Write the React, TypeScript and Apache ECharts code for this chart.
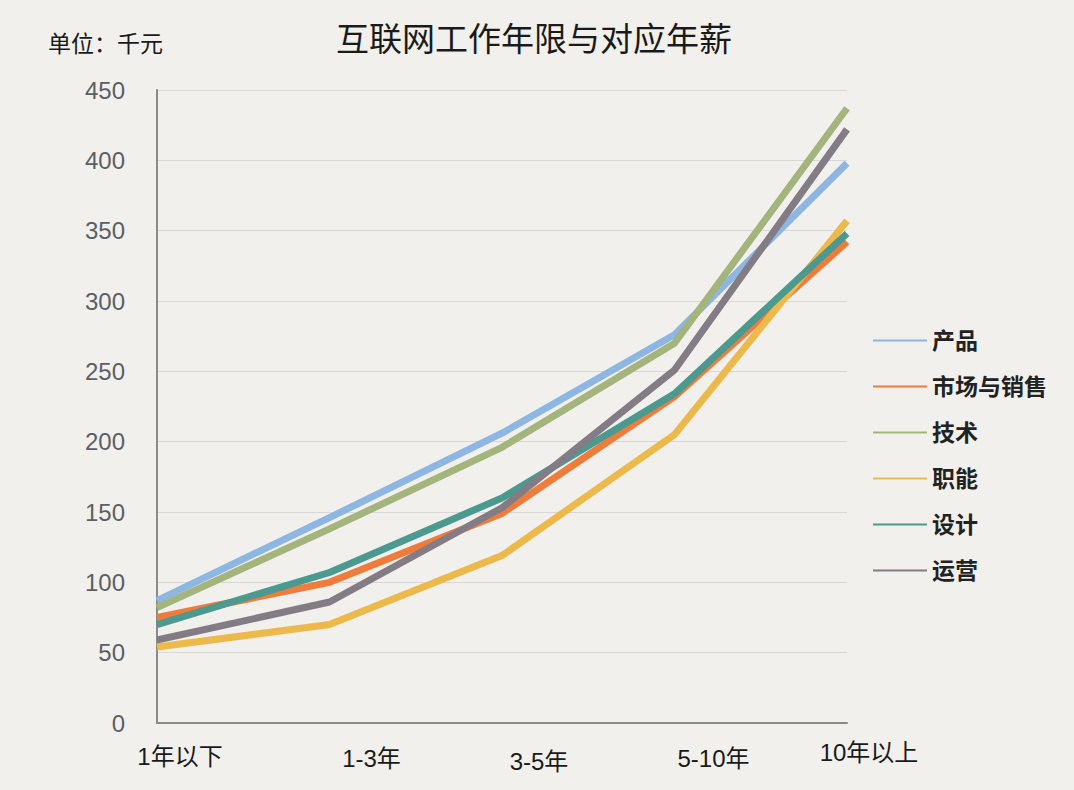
import React, { useEffect, useRef } from "react";
import * as echarts from "echarts";

const categories = ["1年以下", "1-3年", "3-5年", "5-10年", "10年以上"];
const seriesNames = ["产品", "市场与销售", "技术", "职能", "设计", "运营"];
const product = [87, 146, 206, 276, 398];
const marketing = [75, 100, 149, 232, 342];
const tech = [82, 138, 196, 270, 437];
const functional = [54, 70, 119, 205, 357];
const design = [70, 107, 160, 234, 348];
const operation = [59, 86, 153, 251, 422];
const yTicks = [0, 50, 100, 150, 200, 250, 300, 350, 400, 450];

const seriesValues = [product, marketing, tech, functional, design, operation];
const colors = ["#8DB6E3", "#EF7C3A", "#A3B57C", "#EDB94A", "#4B998F", "#837C85"];
const labelDx = [23, 42, 37, 39, 22];
const labelDy = [5, 7, 10, 7, 0];
const FONT = "'Liberation Sans', 'Noto Sans CJK SC', sans-serif";

export default function App() {
  const ref = useRef<HTMLDivElement>(null);
  useEffect(() => {
    if (!ref.current) return;
    const chart = echarts.init(ref.current, undefined, { renderer: "svg" });
    chart.setOption({
      animation: false,
      backgroundColor: "#F1F0EC",
      textStyle: { fontFamily: FONT },
      title: {
        text: "互联网工作年限与对应年薪",
        left: 529,
        textAlign: "center",
        top: 18,
        textStyle: { fontSize: 33, fontWeight: "normal", color: "#1a1a1a", fontFamily: FONT },
      },
      graphic: [
        {
          type: "text",
          left: 48,
          top: 32,
          style: { text: "单位：千元", fontSize: 23, fill: "#1a1a1a", fontFamily: FONT },
        },
      ],
      legend: {
        orient: "vertical",
        left: 868,
        top: 324,
        icon: "rect",
        itemWidth: 54,
        itemHeight: 2,
        itemGap: 23,
        textStyle: { fontSize: 23, fontWeight: "bold", color: "#222", fontFamily: FONT, padding: [0, 0, 0, 0] },
        data: seriesNames,
      },
      grid: { left: 157, right: 227, top: 90, bottom: 67, containLabel: false },
      xAxis: {
        type: "category",
        boundaryGap: false,
        data: categories.map((c, i) => ({
          value: c,
          textStyle: { padding: [labelDy[i], 0, 0, labelDx[i] * 2] },
        })),
        axisLine: { show: true, lineStyle: { color: "#8a8a8a", width: 2 } },
        axisTick: { show: false },
        axisLabel: {
          margin: 17,
          fontSize: 24,
          color: "#1a1a1a",
          fontFamily: FONT,
          verticalAlign: "top",
          interval: 0,
        },
        splitLine: { show: false },
      },
      yAxis: {
        type: "value",
        min: yTicks[0],
        max: yTicks[yTicks.length - 1],
        interval: 50,
        axisLine: { show: true, lineStyle: { color: "#8a8a8a", width: 2 } },
        axisTick: { show: false },
        axisLabel: { margin: 32, fontSize: 24, color: "#5a5f66", fontFamily: FONT },
        splitLine: { lineStyle: { color: "#d8d8d8", width: 1 } },
      },
      series: seriesNames.map((name, i) => ({
        name,
        type: "line",
        data: seriesValues[i],
        symbol: "none",
        showSymbol: false,
        color: colors[i],
        lineStyle: { width: 7, color: colors[i], cap: "butt", join: "round" },
      })),
    });
    return () => chart.dispose();
  }, []);
  return <div ref={ref} style={{ position: "fixed", left: 0, top: 0, width: 1074, height: 790 }} />;
}
